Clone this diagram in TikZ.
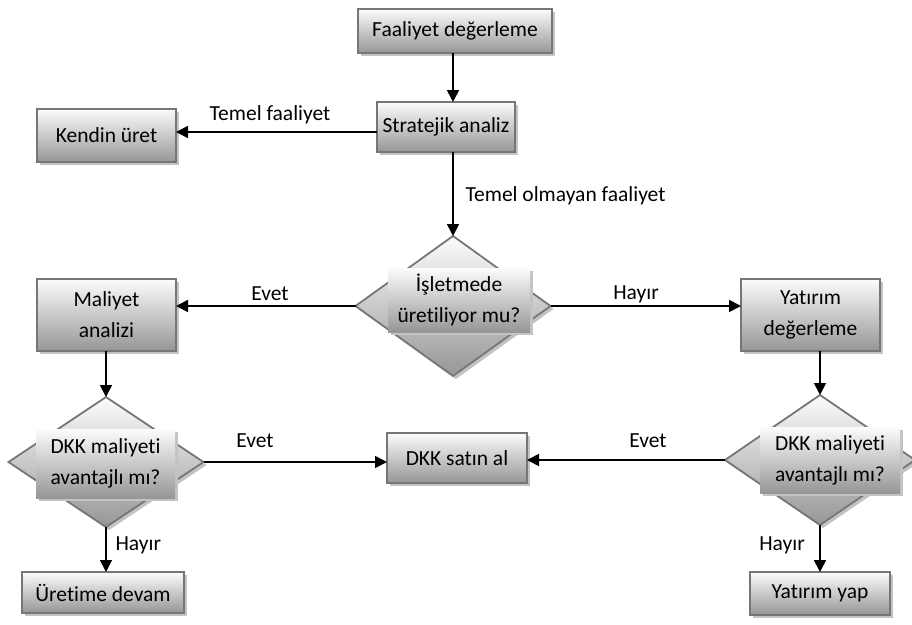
\documentclass[tikz,border=0pt]{standalone}
\usepackage{fontspec}
\setmainfont{Carlito}[Ligatures=NoCommon]
\usetikzlibrary{shapes.geometric,shadows,arrows.meta}
\definecolor{bordergray}{RGB}{118,118,118}
\definecolor{gtop}{RGB}{252,252,252}
\definecolor{gbot}{RGB}{150,150,150}
\definecolor{shadowgray}{RGB}{195,195,195}
\begin{document}
\begin{tikzpicture}[x=1pt,y=-1pt,
  every node/.style={font=\fontsize{21.5}{31}\selectfont},
  myshadow/.style={drop shadow={shadow xshift=3pt,shadow yshift=-3pt,fill=shadowgray,opacity=1}},
  box/.style={rectangle,draw=bordergray,line width=1.8pt,top color=gtop,bottom color=gbot,
    inner sep=0pt,outer sep=0pt,align=center,myshadow},
  dia/.style={diamond,draw=bordergray,line width=1.8pt,top color=gtop,bottom color=gbot,
    inner sep=0pt,outer sep=0pt,myshadow},
  dtext/.style={rectangle,top color=gtop,bottom color=gbot,inner sep=0pt,outer sep=0pt,
    align=center,myshadow},
  arr/.style={line width=1.7pt,-{Triangle[length=12pt,width=12pt]}},
  lbl/.style={inner sep=0pt}]
\useasboundingbox (0,0) rectangle (912,624);

\node[box,minimum width=194pt,minimum height=44pt] (fd) at (455,31) {Faaliyet değerleme};
\node[box,minimum width=138pt,minimum height=50pt] (sa) at (446,127) {Stratejik analiz};
\node[box,minimum width=139pt,minimum height=53pt] (ku) at (106.5,135.5) {Kendin üret};
\node[dia,minimum width=195pt,minimum height=140pt] (d1) at (453,306) {};
\node[dtext,minimum width=142pt,minimum height=64pt] (t1) at (459,300) {İşletmede\\üretiliyor mu?};
\node[box,minimum width=139pt,minimum height=72pt] (ma) at (106.5,315) {Maliyet\\analizi};
\node[box,minimum width=139pt,minimum height=72pt] (yd) at (810.5,315) {Yatırım\\değerleme};
\node[dia,minimum width=195pt,minimum height=130pt] (d2) at (106,462) {};
\node[dtext,minimum width=139pt,minimum height=69pt] (t2) at (105.5,463.5) {DKK maliyeti\\avantajlı mı?};
\node[dia,minimum width=190pt,minimum height=130pt] (d3) at (820,460) {};
\node[dtext,minimum width=140pt,minimum height=66pt] (t3) at (830,460) {DKK maliyeti\\avantajlı mı?};
\node[box,minimum width=140pt,minimum height=50pt] (dkk) at (457,458) {DKK satın al};
\node[box,minimum width=162pt,minimum height=41pt] (ue) at (103,592.5) {Üretime devam};
\node[box,minimum width=140pt,minimum height=43pt] (yy) at (820,593.5) {Yatırım yap};

\coordinate (k) at (0,132);
\draw[arr] (fd.south -| d1.north) -- (sa.north -| d1.north);
\draw[arr] (sa.west |- k) -- (ku.east |- k);
\draw[arr] (sa.south -| d1.north) -- (d1.north);
\draw[arr] (d1.west) -- (ma.east |- d1.west);
\draw[arr] (d1.east) -- (yd.west |- d1.east);
\draw[arr] (ma.south -| d2.north) -- (d2.north);
\draw[arr] (yd.south -| d3.north) -- (d3.north);
\draw[arr] (d2.east) -- (dkk.west |- d2.east);
\draw[arr] (d3.west) -- (dkk.east |- d3.west);
\draw[arr] (d2.south) -- (ue.north -| d2.south);
\draw[arr] (d3.south) -- (yy.north -| d3.south);

\node (l1) at (270,115) {Temel faaliyet};
\node[anchor=west] (l2) at (462,196) {Temel olmayan faaliyet};
\node (l3) at (270,294) {Evet};
\node (l4) at (636,294) {Hayır};
\node (l5) at (255,441) {Evet};
\node (l6) at (648,441) {Evet};
\node[anchor=west] (l7) at (112,545) {Hayır};
\node (l8) at (782,545) {Hayır};
\end{tikzpicture}
\end{document}
